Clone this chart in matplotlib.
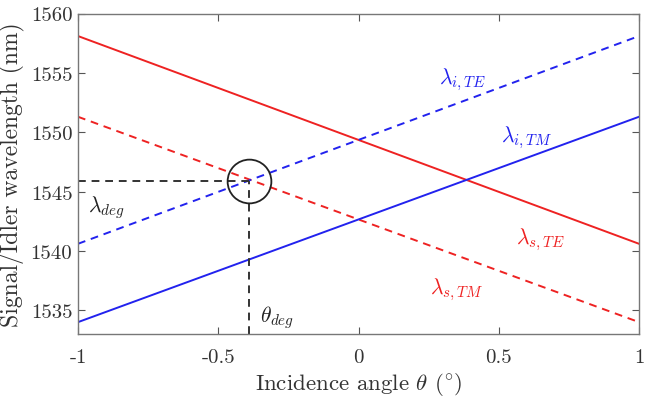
import matplotlib
matplotlib.use("Agg")
import matplotlib.pyplot as plt
import numpy as np

plt.rcParams['font.family'] = 'serif'
plt.rcParams['font.serif'] = ['cmr10', 'DejaVu Serif']
plt.rcParams['mathtext.fontset'] = 'cm'
plt.rcParams['axes.unicode_minus'] = False

# data: end points of the tuning curves (angle in deg, wavelength in nm)
theta = [-1, 1]
lam_s_te = [1558.1, 1540.6]
lam_s_tm = [1551.3, 1534.0]
lam_i_te = [1540.6, 1558.1]
lam_i_tm = [1534.0, 1551.3]

theta_deg = -0.39
lam_deg = 1545.9

xticks = [-1, -0.5, 0, 0.5, 1]
xtick_labels = ['-1', '-0.5', '0', '0.5', '1']
yticks = [1535, 1540, 1545, 1550, 1555, 1560]

red = '#ee2222'
blue = '#2222ee'

fig = plt.figure(figsize=(6.54, 4.02), dpi=100)
ax = fig.add_axes([78 / 654, 1 - 335 / 402, (639 - 78) / 654, (335 - 14.5) / 402])

ax.plot(theta, lam_s_te, '-', color=red, lw=1.4)
ax.plot(theta, lam_s_tm, '--', color=red, lw=1.4, dashes=(4, 3))
ax.plot(theta, lam_i_te, '--', color=blue, lw=1.4, dashes=(4, 3))
ax.plot(theta, lam_i_tm, '-', color=blue, lw=1.4)

# degeneracy markers
ax.plot([-1, theta_deg], [lam_deg, lam_deg], '--', color='#333333', lw=1.4, dashes=(4, 3))
ax.plot([theta_deg, theta_deg], [1533, lam_deg], '--', color='#333333', lw=1.4, dashes=(4, 3))
ax.plot([theta_deg], [lam_deg], 'o', mfc='none', mec='#222222', ms=31.5, mew=1.3)

fs = 15.5
ax.text(0.37, 1554.5, r'$\lambda_{i,TE}$', color=blue, fontsize=fs, ha='center', va='center')
ax.text(0.60, 1549.6, r'$\lambda_{i,TM}$', color=blue, fontsize=fs, ha='center', va='center')
ax.text(0.65, 1541.0, r'$\lambda_{s,TE}$', color=red, fontsize=fs, ha='center', va='center')
ax.text(0.35, 1536.8, r'$\lambda_{s,TM}$', color=red, fontsize=fs, ha='center', va='center')
ax.text(-0.90, 1543.7, r'$\lambda_{deg}$', color='#222222', fontsize=fs, ha='center', va='center')
ax.text(-0.29, 1534.5, r'$\theta_{deg}$', color='#222222', fontsize=fs, ha='center', va='center')

ax.set_xlim(-1, 1)
ax.set_ylim(1533, 1560)
ax.set_xticks(xticks)
ax.set_xticklabels(xtick_labels)
ax.set_yticks(yticks)
ax.tick_params(direction='in', top=True, right=True, labelsize=15, colors='#555555',
               labelcolor='#333333', length=5)
ax.tick_params(axis='x', pad=10)
ax.tick_params(axis='y', pad=4)
for s in ax.spines.values():
    s.set_color('#777777')
    s.set_linewidth(1.0)

ax.set_xlabel(r'Incidence angle $\theta$ $(^{\circ})$', fontsize=16.5, color='#333333', labelpad=3)
ax.set_ylabel('Signal/Idler wavelength (nm)', fontsize=17, color='#333333', labelpad=4)

fig.savefig('out.png', dpi=100)
